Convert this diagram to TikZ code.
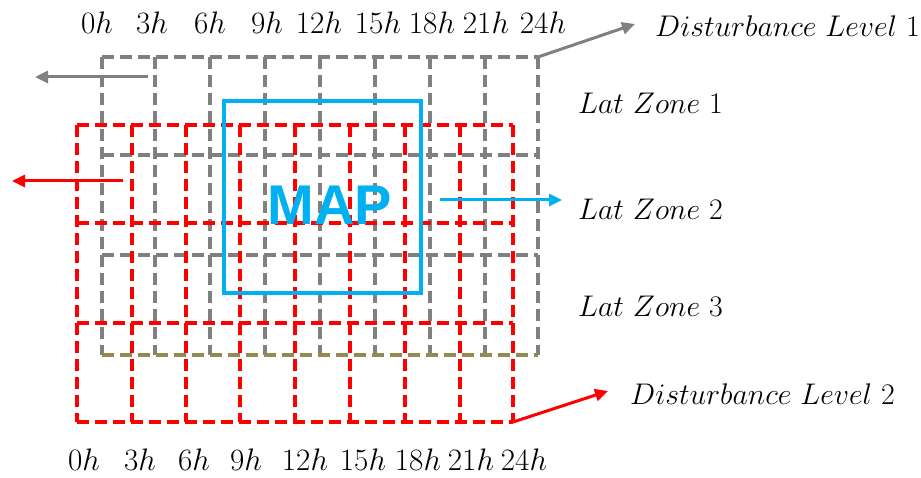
\documentclass[tikz,border=0pt]{standalone}
\usepackage{fontspec}
\usepackage{graphicx}
\newfontfamily\mapfont{Liberation Sans}
\usetikzlibrary{arrows.meta}
\definecolor{gridgray}{HTML}{808080}
\definecolor{gridred}{HTML}{FF0000}
\definecolor{mapblue}{HTML}{00B0F0}
\definecolor{gridolive}{HTML}{948A54}
\newcommand{\tlabel}[1]{\scalebox{1.25}{$#1$}}
\newcommand{\rlabel}[1]{\scalebox{1.2}{$#1$}}
\begin{document}
\begin{tikzpicture}[x=1pt,y=-1pt,
  ggrid/.style={draw=gridgray, line width=3.5pt, dash pattern=on 12pt off 6pt},
  ogrid/.style={draw=gridolive, line width=3.5pt, dash pattern=on 12pt off 6pt},
  rgrid/.style={draw=gridred, line width=3.5pt, dash pattern=on 12pt off 6pt},
  tlbl/.style={font=\fontsize{24.88}{30}\selectfont, inner sep=0pt},
  lbl/.style={font=\fontsize{24.88}{30}\selectfont, inner sep=0pt},
  tip/.style={-{Triangle[length=13pt,width=12pt]}, line width=3pt},
]
\useasboundingbox (0,0) rectangle (921,478);

% gray grid (Disturbance Level 1)
\foreach \x in {102,155,210,265,320,375,430,485,538}
  \draw[ggrid] (\x,57) -- (\x,355);
\foreach \y in {57,155,255}
  \draw[ggrid] (102,\y) -- (538,\y);
\draw[ogrid] (102,355) -- (538,355);

% red grid (Disturbance Level 2)
\foreach \x in {77,132,186,240,295,350,405,460,513}
  \draw[rgrid] (\x,125) -- (\x,422);
\foreach \y in {125,223,323,422}
  \draw[rgrid] (77,\y) -- (513,\y);

% MAP box
\node[draw=mapblue, line width=3.5pt, minimum width=197pt, minimum height=192pt, inner sep=0pt] (mapbox) at (322.5,197) {};
\node[text=mapblue, font=\mapfont\bfseries\fontsize{56}{60}\selectfont, inner sep=0pt] (map) at (330,205) {MAP};

% time labels
\foreach \x/\t [count=\i] in {97/0,152/3,210/6,267/9,319/12,378/15,432/18,486/21,543/24}
  \node[tlbl] (top\i) at (\x,23) {\tlabel{\t h}};
\foreach \x/\t [count=\i] in {84/0,140/3,194/6,246/9,305/12,363/15,418/18,471/21,524/24}
  \node[tlbl] (bot\i) at (\x,460) {\tlabel{\t h}};

% right-side labels
\node[lbl, anchor=west] (dl1) at (655,26) {\rlabel{Disturbance\ Level\ 1}};
\node[lbl, anchor=west] (lz1) at (578,103) {\rlabel{Lat\ Zone\ 1}};
\node[lbl, anchor=west] (lz2) at (578,209) {\rlabel{Lat\ Zone\ 2}};
\node[lbl, anchor=west] (lz3) at (578,306) {\rlabel{Lat\ Zone\ 3}};
\node[lbl, anchor=west] (dl2) at (630,394) {\rlabel{Disturbance\ Level\ 2}};

% arrows
\coordinate (gcorner) at (538,57);
\coordinate (rcorner) at (513,422);
\coordinate (gl0) at (148,77);
\coordinate (gl1) at (35,77);
\coordinate (rl0) at (123,181);
\coordinate (rl1) at (12,181);
\coordinate (b0) at (440,200);
\coordinate (b1) at (562,200);
\draw[tip, gridgray] (gcorner) -- (635,24);
\draw[tip, gridred] (rcorner) -- (608,391);
\draw[tip, gridgray] (gl0) -- (gl1);
\draw[tip, gridred] (rl0) -- (rl1);
\draw[tip, mapblue] (b0) -- (b1);
\end{tikzpicture}
\end{document}
